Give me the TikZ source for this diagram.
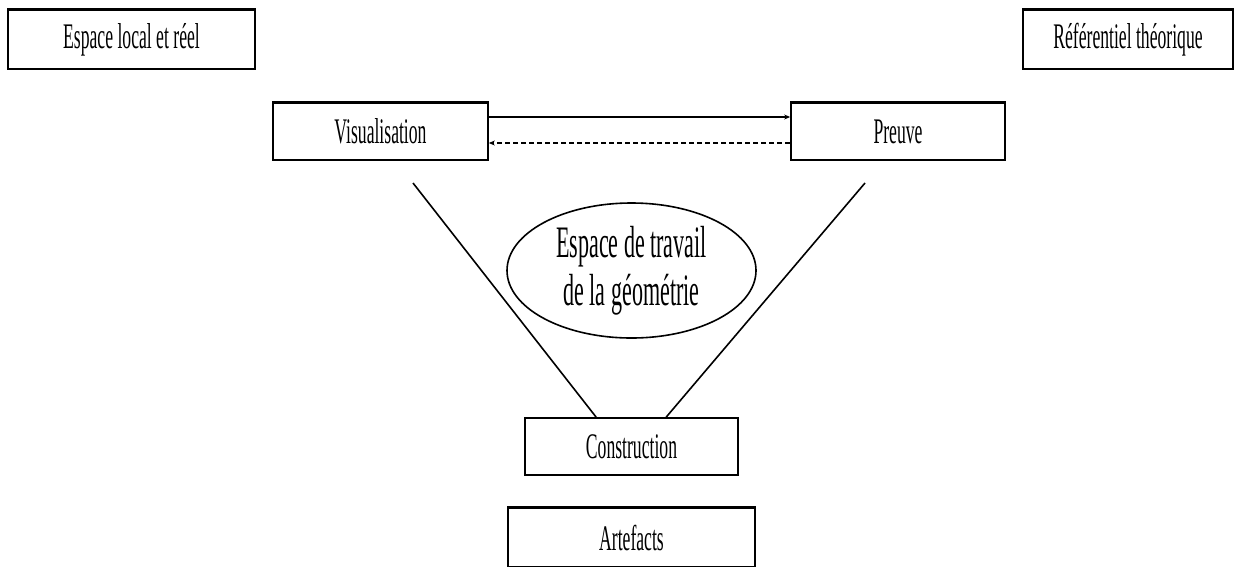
\documentclass[tikz,border=0pt]{standalone}
\usepackage{fontspec}
\setmainfont{Liberation Serif}
\newfontfamily\narrowserif[FakeStretch=0.49]{Liberation Serif}
\usetikzlibrary{arrows.meta,shapes.geometric,calc}
\begin{document}
\begin{tikzpicture}[x=1pt,y=-1pt,
  box/.style={draw, line width=1.7pt, inner sep=0pt,
    font=\narrowserif\fontsize{36}{40}\selectfont},
  topedge/.style={line width=3.2pt},
  link/.style={line width=1.6pt},
  tip/.style={-{Stealth[length=6pt,width=5pt]}}]
\clip (0,0) rectangle (1234,566);
\fill[white] (0,0) rectangle (1234,566);

% frames of reference
\node[box, minimum width=247, minimum height=59] (local) at (131.5,39.5) {Espace local et réel};
\node[box, minimum width=210, minimum height=59] (ref) at (1128,39.5) {Référentiel théorique};

% geneses
\node[box, minimum width=215, minimum height=57] (visu) at (380.5,131.5) {Visualisation};
\node[box, minimum width=214, minimum height=57] (preuve) at (898,131.5) {Preuve};
\node[box, minimum width=213, minimum height=57] (cons) at (631.5,446.5) {Construction};
\node[box, minimum width=247, minimum height=59] (art) at (631.5,537.5) {Artefacts};

% central workspace
\node[draw, ellipse, line width=1.6pt, inner sep=0pt, minimum width=249, minimum height=135,
  align=center, font=\narrowserif\fontsize{45}{48}\selectfont] (etg) at (631.5,270.5)
  {Espace de travail\\de la géométrie};

% heavier top edges
\foreach \n in {local,ref,visu,preuve,art}
  \draw[topedge] (\n.north west) -- (\n.north east);

% exchanges between visualisation and proof
\draw[line width=2.8pt, tip] ($(visu.east)+(0,-14.5)$) -- ($(preuve.west)+(0,-14.5)$);
\draw[line width=1.5pt, dash pattern=on 5pt off 3pt, tip] ($(preuve.west)+(0,11.5)$) -- ($(visu.east)+(0,11.5)$);

% links down to construction
\coordinate (vfoot) at (413,183);
\coordinate (pfoot) at (865,183);
\draw[link] (vfoot) -- ($(cons.north west)+(72,0)$);
\draw[link] (pfoot) -- ($(cons.north west)+(142,0)$);
\end{tikzpicture}
\end{document}
